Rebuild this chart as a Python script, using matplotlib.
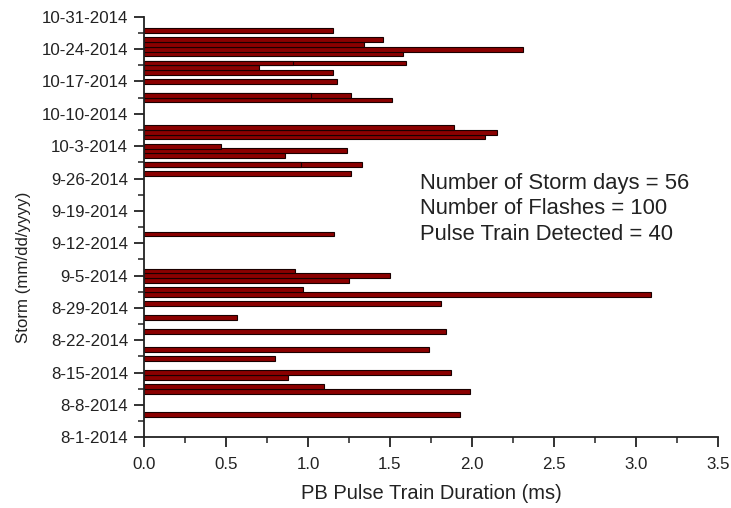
import matplotlib
matplotlib.use("Agg")
import matplotlib.pyplot as plt
import matplotlib.dates as mdates
from matplotlib.ticker import MultipleLocator, FixedLocator, FormatStrFormatter
import numpy as np
from datetime import datetime

plt.rcParams['font.family'] = ['Liberation Sans', 'DejaVu Sans']

# Storm dates and PB pulse train durations (ms); repeated dates are several flashes that day
storm_dates = [
    "2014-08-06", "2014-08-11", "2014-08-12", "2014-08-14", "2014-08-15",
    "2014-08-18", "2014-08-20", "2014-08-24", "2014-08-27", "2014-08-30",
    "2014-09-01", "2014-09-02", "2014-09-04", "2014-09-05", "2014-09-06",
    "2014-09-14",
    "2014-09-27", "2014-09-29", "2014-09-29", "2014-10-01", "2014-10-02",
    "2014-10-03", "2014-10-05", "2014-10-06", "2014-10-07",
    "2014-10-13", "2014-10-14", "2014-10-14", "2014-10-17", "2014-10-19",
    "2014-10-20", "2014-10-21", "2014-10-21", "2014-10-23", "2014-10-24",
    "2014-10-25", "2014-10-26", "2014-10-28",
]
durations = [
    1.93, 1.99, 1.10, 0.88, 1.87,
    0.80, 1.74, 1.84, 0.57, 1.81,
    3.09, 0.97, 1.25, 1.50, 0.92,
    1.16,
    1.26, 1.33, 0.96, 0.86, 1.24,
    0.47, 2.08, 2.15, 1.89,
    1.51, 1.26, 1.02, 1.18, 1.15,
    0.70, 1.60, 0.91, 1.58, 2.31,
    1.34, 1.46, 1.15,
]

tick_dates = [
    "2014-08-01", "2014-08-08", "2014-08-15", "2014-08-22", "2014-08-29",
    "2014-09-05", "2014-09-12", "2014-09-19", "2014-09-26", "2014-10-03",
    "2014-10-10", "2014-10-17", "2014-10-24", "2014-10-31",
]
tick_labels = [
    "8-1-2014", "8-8-2014", "8-15-2014", "8-22-2014", "8-29-2014",
    "9-5-2014", "9-12-2014", "9-19-2014", "9-26-2014", "10-3-2014",
    "10-10-2014", "10-17-2014", "10-24-2014", "10-31-2014",
]

summary_lines = [
    "Number of Storm days = 56",
    "Number of Flashes = 100",
    "Pulse Train Detected = 40",
]

to_num = lambda s: mdates.date2num(datetime.strptime(s, "%Y-%m-%d"))
y = np.array([to_num(s) for s in storm_dates])
yt = np.array([to_num(s) for s in tick_dates])

ink = "#222222"
fig = plt.figure(figsize=(7.31, 5.08), dpi=100)
ax = fig.add_axes([0.197, 0.139, 0.785, 0.828])

ax.barh(y, durations, height=1.05, color="#8b0000", edgecolor="#1a0000",
        linewidth=0.8, zorder=2)

ax.set_xlim(0, 3.5)
ax.set_ylim(yt[0], yt[-1])
ax.xaxis.set_major_locator(MultipleLocator(0.5))
ax.xaxis.set_minor_locator(MultipleLocator(0.25))
ax.xaxis.set_major_formatter(FormatStrFormatter("%.1f"))

ax.yaxis.set_major_locator(FixedLocator(yt))
ax.yaxis.set_minor_locator(FixedLocator(yt[:-1] + 3.5))
ax.set_yticklabels(tick_labels)

for side in ("top", "right"):
    ax.spines[side].set_visible(False)
for side in ("left", "bottom"):
    ax.spines[side].set_linewidth(1.3)
    ax.spines[side].set_color(ink)

ax.tick_params(axis="both", which="major", direction="out", length=7,
               width=1.3, labelsize=12.2, color=ink, labelcolor=ink)
ax.tick_params(axis="y", which="major", pad=4.5)
ax.tick_params(axis="x", which="major", pad=7)
ax.tick_params(axis="both", which="minor", direction="out", length=4,
               width=1.1, color=ink)

ax.set_xlabel("PB Pulse Train Duration (ms)", fontsize=14.5, color=ink,
              labelpad=9)
ax.set_ylabel("Storm (mm/dd/yyyy)", fontsize=12.2, color=ink)
ax.yaxis.set_label_coords(-0.197, 0.405)

for i, line in enumerate(summary_lines):
    ax.text(0.481, 0.604 - i * 0.0606, line, transform=ax.transAxes,
            fontsize=15.8, color=ink, va="center", ha="left")

fig.savefig("out.png", dpi=100)
